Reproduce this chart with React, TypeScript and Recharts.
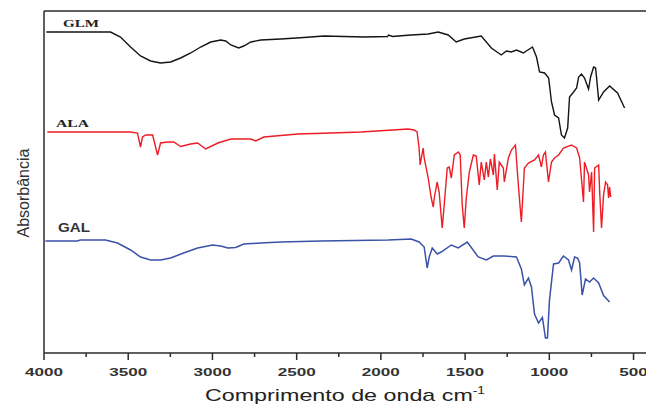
import { LineChart, Line, XAxis, YAxis, ReferenceLine } from "recharts";

// wavenumber (cm-1), offset absorbance (a.u.)
const glm: [number, number][] = [
  [3986, 3.21], [3784, 3.21], [3605, 3.21], [3546, 3.16], [3486, 3.06], [3427, 2.97],
  [3367, 2.92], [3308, 2.9], [3248, 2.91], [3189, 2.95], [3129, 3.0], [3070, 3.06],
  [3010, 3.11], [2951, 3.13], [2921, 3.12], [2891, 3.08], [2844, 3.05], [2814, 3.07],
  [2772, 3.11], [2713, 3.13], [2594, 3.14], [2457, 3.155], [2338, 3.17], [2100, 3.16],
  [1960, 3.165], [1955, 3.18], [1930, 3.165], [1897, 3.17], [1820, 3.18], [1719, 3.19],
  [1660, 3.21], [1600, 3.18], [1553, 3.11], [1505, 3.14], [1404, 3.17], [1344, 3.05],
  [1285, 2.98], [1255, 3.02], [1225, 3.01], [1195, 3.03], [1154, 3.0], [1100, 3.06],
  [1076, 2.96], [1058, 2.81], [1028, 2.8], [1004, 2.75], [987, 2.51], [969, 2.38],
  [945, 2.35], [928, 2.18], [910, 2.15], [891, 2.25], [880, 2.56], [856, 2.61],
  [838, 2.65], [826, 2.76], [809, 2.79], [791, 2.75], [767, 2.64], [755, 2.76],
  [737, 2.86], [725, 2.85], [707, 2.53], [678, 2.61], [642, 2.67], [595, 2.6], [553, 2.45],
];

const ala: [number, number][] = [
  [3980, 2.21], [3486, 2.21], [3445, 2.2], [3427, 2.06], [3415, 2.16], [3397, 2.18],
  [3355, 2.18], [3326, 1.98], [3308, 2.1], [3266, 2.11], [3230, 2.11], [3189, 2.065],
  [3129, 2.09], [3088, 2.1], [3040, 2.04], [2968, 2.1], [2891, 2.14], [2772, 2.14],
  [2743, 2.12], [2695, 2.16], [2493, 2.19], [2296, 2.2], [2118, 2.21], [1838, 2.24],
  [1803, 2.23], [1785, 2.21], [1773, 2.05], [1767, 1.88], [1749, 2.05], [1743, 1.95],
  [1719, 1.75], [1701, 1.55], [1689, 1.46], [1683, 1.55], [1666, 1.71], [1654, 1.61],
  [1636, 1.25], [1624, 1.48], [1606, 1.85], [1594, 1.86], [1582, 1.75], [1564, 1.98],
  [1540, 2.01], [1529, 1.98], [1517, 1.48], [1505, 1.25], [1493, 1.55], [1475, 1.81],
  [1451, 1.98], [1434, 1.97], [1416, 1.68], [1404, 1.91], [1386, 1.73], [1374, 1.91],
  [1362, 1.76], [1350, 1.94], [1332, 1.78], [1326, 1.99], [1309, 1.63], [1297, 1.91],
  [1273, 1.85], [1267, 1.71], [1243, 1.95], [1225, 2.03], [1201, 2.08], [1184, 1.68],
  [1166, 1.31], [1148, 1.85], [1124, 1.9], [1088, 1.93], [1064, 1.98], [1047, 1.86],
  [1035, 1.98], [1023, 2.01], [1005, 1.71], [987, 1.91], [969, 1.95], [945, 1.98],
  [916, 2.05], [868, 2.08], [838, 2.05], [820, 1.95], [797, 1.51], [791, 1.91],
  [767, 1.78], [761, 1.61], [749, 1.81], [737, 1.21], [731, 1.85], [707, 1.88],
  [701, 1.61], [690, 1.25], [678, 1.58], [666, 1.71], [654, 1.68], [648, 1.55],
  [642, 1.66], [636, 1.56],
];

const gal: [number, number][] = [
  [3992, 1.12], [3802, 1.12], [3784, 1.13], [3635, 1.13], [3564, 1.1], [3486, 1.03],
  [3427, 0.96], [3367, 0.93], [3308, 0.93], [3248, 0.95], [3171, 1.0], [3088, 1.05],
  [2999, 1.08], [2951, 1.07], [2909, 1.05], [2862, 1.055], [2814, 1.09], [2713, 1.1],
  [2594, 1.11], [2356, 1.12], [1957, 1.13], [1820, 1.14], [1773, 1.11], [1743, 1.06],
  [1725, 0.85], [1713, 0.96], [1695, 1.05], [1665, 0.99], [1642, 1.01], [1582, 1.08],
  [1541, 1.05], [1487, 1.11], [1422, 0.96], [1374, 0.93], [1332, 0.97], [1267, 0.97],
  [1195, 0.96], [1166, 0.84], [1148, 0.68], [1124, 0.75], [1106, 0.66], [1088, 0.39],
  [1064, 0.3], [1041, 0.355], [1023, 0.15], [1011, 0.15], [999, 0.53], [975, 0.89],
  [945, 0.9], [916, 0.97], [886, 0.93], [868, 0.83], [850, 0.96], [832, 0.95],
  [820, 0.9], [805, 0.58], [785, 0.74], [761, 0.71], [737, 0.75], [707, 0.7],
  [678, 0.575], [642, 0.51],
];

const allTicks = [4000, 3750, 3500, 3250, 3000, 2750, 2500, 2250, 2000, 1750, 1500, 1250, 1000, 750, 500];
const labelledTicks = [4000, 3500, 3000, 2500, 2000, 1500, 1000, 500];

const toRows = (pts: [number, number][]) => pts.map(([wn, a]) => ({ wn, a }));

const AXIS = "#2b2b2b";
const TICK_SIZE = 7;

// draws its own tick mark: long for labelled ticks, short for the others
const Tick = (props: any) => {
  const { x, y, payload } = props;
  const axisY = y - TICK_SIZE;
  const major = labelledTicks.includes(payload.value);
  const label = String(payload.value);
  return (
    <g>
      <line x1={x} x2={x} y1={axisY} y2={axisY + (major ? 7 : 4)} stroke={AXIS} strokeWidth={1.5} />
      {major && (
        <text x={x} y={axisY + 15} dy="0.71em" textAnchor="middle" fontSize={11} fontWeight="bold"
          fontFamily="Arial, 'Liberation Sans', sans-serif" fill="#333"
          textLength={label.length * 9.5} lengthAdjust="spacingAndGlyphs">
          {label}
        </text>
      )}
    </g>
  );
};

export default function App() {
  return (
    <div style={{ position: "absolute", left: 0, top: 0, width: 646, height: 406, background: "#fff" }}>
      <LineChart width={646} height={406} margin={{ top: 11, right: 0, bottom: 0, left: 0 }}>
        <XAxis dataKey="wn" type="number" domain={[426, 4000]} reversed allowDataOverflow
          ticks={allTicks} interval={0} tick={<Tick />} tickSize={TICK_SIZE} tickMargin={0} height={53}
          axisLine={{ stroke: AXIS, strokeWidth: 1.5 }} tickLine={false} />
        <YAxis type="number" domain={[0, 3.42]} width={44} tick={false} tickLine={false}
          axisLine={{ stroke: AXIS, strokeWidth: 1.5 }} />
        <ReferenceLine y={3.42} stroke={AXIS} strokeWidth={1.5} />
        <Line data={toRows(glm)} dataKey="a" stroke="#141414" strokeWidth={1.4} dot={false} isAnimationActive={false} />
        <Line data={toRows(ala)} dataKey="a" stroke="#ee1c25" strokeWidth={1.4} dot={false} isAnimationActive={false} />
        <Line data={toRows(gal)} dataKey="a" stroke="#3a52a8" strokeWidth={1.5} dot={false} isAnimationActive={false} />

        <text x={63} y={27} fontSize={11} fontWeight="bold" fontFamily="'Liberation Serif', serif" fill="#222"
          textLength={36} lengthAdjust="spacingAndGlyphs">GLM</text>
        <text x={56} y={127} fontSize={11} fontWeight="bold" fontFamily="'Liberation Serif', serif" fill="#222"
          textLength={33} lengthAdjust="spacingAndGlyphs">ALA</text>
        <text x={58} y={232} fontSize={12} fontWeight="bold" fontFamily="Arial, 'Liberation Sans', sans-serif" fill="#333"
          textLength={32} lengthAdjust="spacingAndGlyphs">GAL</text>

        <text x={0} y={0} transform="translate(29,193) rotate(-90)" textAnchor="middle" fontSize={16}
          fontFamily="Arial, 'Liberation Sans', sans-serif" fill="#333">Absorbância</text>
        <text x={345} y={401} textAnchor="middle" fontSize={17} fontFamily="Arial, 'Liberation Sans', sans-serif"
          fill="#222" textLength={280} lengthAdjust="spacingAndGlyphs">
          Comprimento de onda cm<tspan dy={-7} fontSize={10}>-1</tspan>
        </text>
      </LineChart>
    </div>
  );
}
